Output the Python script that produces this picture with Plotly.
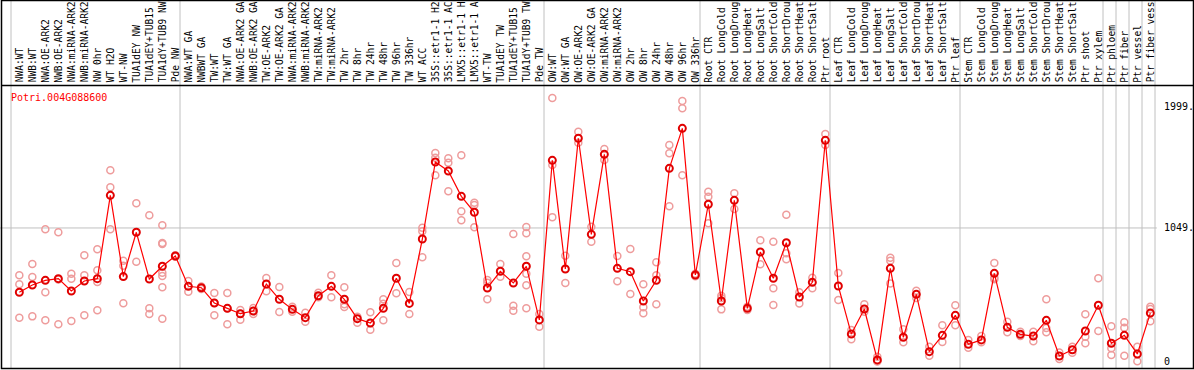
import plotly.graph_objects as go

labels = ["NWA:WT", "NWB:WT", "NWA:OE-ARK2", "NWB:OE-ARK2", "NWA:miRNA-ARK2", "NWB:miRNA-ARK2",
          "NW 0hr", "WT H2O", "WT-NW", "TUA1dEY NW", "TUA1dEY+TUB15", "TUA1dY+TUB9 NW", "Pde NW",
          "NWA:WT GA", "NWBWT GA", "TW:WT", "TW:WT GA", "NWA:OE-ARK2 GA", "NWB:OE-ARK2 GA",
          "TW:OE-ARK2", "TW:OE-ARK2 GA", "NWA:miRNA-ARK2", "NWB:miRNA-ARK2", "TW:miRNA-ARK2",
          "TW:miRNA-ARK2", "TW 2hr", "TW 8hr", "TW 24hr", "TW 48hr", "TW 96hr", "TW 336hr",
          "WT ACC", "35S::etr1-1 H2", "35S::etr1-1 AC", "LMX5::etr1-1 H", "LMX5::etr1-1 A",
          "WT-TW", "TUA1dEY TW", "TUA1dEY+TUB15", "TUA1dY+TUB9 TW", "Pde TW",
          "OW:WT", "OW:WT GA", "OW:OE-ARK2", "OW:OE-ARK2 GA", "OW:miRNA-ARK2", "OW:miRNA-ARK2",
          "OW 2hr", "OW 8hr", "OW 24hr", "OW 48hr", "OW 96hr", "OW 336hr",
          "Root CTR", "Root LongCold", "Root LongDroug", "Root LongHeat", "Root LongSalt",
          "Root ShortCold", "Root ShortDrou", "Root ShortHeat", "Root ShortSalt", "Ptr root",
          "Leaf CTR", "Leaf LongCold", "Leaf LongDroug", "Leaf LongHeat", "Leaf LongSalt",
          "Leaf ShortCold", "Leaf ShortDrou", "Leaf ShortHeat", "Leaf ShortSalt", "Ptr leaf",
          "Stem CTR", "Stem LongCold", "Stem LongDroug", "Stem LongHeat", "Stem LongSalt",
          "Stem ShortCold", "Stem ShortDrou", "Stem ShortHeat", "Stem ShortSalt",
          "Ptr shoot", "Ptr xylem", "Ptr phloem", "Ptr fiber", "Ptr vessel", "Ptr fiber vess"]

means = [544, 601, 638, 651, 554, 633, 651, 1305, 667, 1015, 648, 748, 829,
         591, 580, 460, 418, 376, 397, 609, 489, 410, 345, 517, 591, 489, 337, 303, 418, 654, 457,
         962, 1567, 1496, 1297, 1172, 578, 709, 617, 748, 327,
         1580, 727, 1753, 999, 1627, 732, 706, 476, 638, 1517, 1831, 680,
         1235, 476, 1266, 418, 860, 654, 933, 507, 622, 1737,
         593, 216, 413, 13, 732, 191, 528, 78, 206, 363,
         136, 170, 693, 269, 214, 201, 324, 44, 93, 240,
         442, 144, 206, 60, 381]

replicates = [
    [677, 607, 345], [766, 664, 355], [1038, 544, 324], [1015, 645, 293], [690, 651, 319],
    [834, 677, 363], [881, 717, 625, 403], [1502, 1368, 1038], [792, 753, 458], [1243, 784],
    [1148, 418, 374], [1070, 931, 923, 698, 672, 583, 337], [835, 823], [633, 549], [590, 570],
    [538, 460, 363], [538, 418, 293], [405, 376, 329], [420, 397, 374], [656, 552],
    [585, 389], [431, 392], [384, 313], [541, 505], [677, 505],
    [583, 450, 429], [352, 305], [387, 303, 250], [489, 454, 324], [774, 536],
    [546, 374], [1051, 1023, 819], [1637, 1600, 1462], [1596, 1561, 1337], [1619, 1180, 1109],
    [1247, 1229, 1054], [640, 619, 489], [766, 666], [1002, 439, 400], [1057, 1007, 827, 690, 599, 418],
    [374, 274], [2069, 1543, 1134], [831, 617], [1805, 1718], [1059, 941],
    [1669, 1582], [829, 630], [884, 531], [607, 426, 379], [779, 677, 450],
    [1700, 1635, 1219], [2045, 1988, 1462], [690, 670], [1334, 1294, 1086], [517, 500, 410],
    [1321, 1198], [430, 405], [952, 764], [941, 575, 444], [1153, 850, 803],
    [544, 457], [658, 575], [1786, 1700], [695, 483], [248, 175],
    [450, 392], [38, 5, 0], [816, 792, 614], [253, 151], [557, 500],
    [117, 46], [285, 154], [442, 285], [170, 109], [201, 151],
    [774, 659, 646], [313, 230], [235, 201], [235, 159], [489, 264, 230],
    [71, 20], [117, 70], [371, 196, 144], [654, 240], [277, 104, 52],
    [308, 266, 46], [117, 3], [431, 413, 316]]

group_ends = [-1, 12, 40, 52, 62, 72, 83, 84, 85, 86, 87]
tick_vals = [0, 1049, 1999]
tick_text = ["0", "1049.", "1999."]
title_text = "Potri.004G088600"

W, H = 1194, 370
STEP = 13.0          # px per sample
X0PX = 19.33         # px of first sample
Y0PX = 361.6         # px of value 0
PXV = 0.1274         # px per unit

xr = [-X0PX / STEP, (W - X0PX) / STEP]
yr = [(Y0PX - H) / PXV, Y0PX / PXV]

def px_x(p):
    return xr[0] + p / STEP

def pyp(p):
    return 1 - p / H

xs = list(range(len(labels)))
rx, ry = [], []
for i, reps in enumerate(replicates):
    for v in reps:
        rx.append(i)
        ry.append(v)

fig = go.Figure()
fig.add_trace(go.Scatter(x=rx, y=ry, mode="markers",
                         marker=dict(symbol="circle-open", size=7, color="#EE9C9C",
                                     line=dict(width=1.5, color="#EE9C9C")),
                         hoverinfo="skip", showlegend=False))
fig.add_trace(go.Scatter(x=xs, y=means, mode="lines+markers",
                         line=dict(color="#FF0000", width=1.2),
                         marker=dict(symbol="circle-open", size=7, color="#E00000",
                                     line=dict(width=2, color="#E00000")),
                         showlegend=False))

shapes = []
top_py, bot_py, hdr_py = 0.5, 368.5, 85.5
for k in group_ends:
    shapes.append(dict(type="line", xref="x", yref="paper", x0=k + 0.36, x1=k + 0.36,
                       y0=pyp(bot_py), y1=pyp(top_py), line=dict(color="#C0C0C0", width=1), layer="below"))
shapes.append(dict(type="line", xref="x", yref="y", x0=xr[0], x1=len(labels) - 0.5,
                   y0=tick_vals[1], y1=tick_vals[1], line=dict(color="#C0C0C0", width=1), layer="below"))
shapes.append(dict(type="rect", xref="paper", yref="paper", x0=1.5 / W, x1=1193.5 / W,
                   y0=pyp(bot_py), y1=pyp(top_py), line=dict(color="black", width=1.5)))
shapes.append(dict(type="line", xref="paper", yref="paper", x0=1.5 / W, x1=1193.5 / W,
                   y0=pyp(hdr_py), y1=pyp(hdr_py), line=dict(color="black", width=1.5)))

annotations = []
for i, lab in enumerate(labels):
    annotations.append(dict(x=i, xref="x", y=pyp(83.5), yref="paper", text=lab, textangle=-90,
                            showarrow=False, xanchor="center", yanchor="bottom", borderpad=0,
                            font=dict(family="DejaVu Sans Mono", size=9.6, color="black")))
for v, t in zip(tick_vals, tick_text):
    annotations.append(dict(x=px_x(1162), xref="x", y=v, yref="y", text=t, showarrow=False,
                            xanchor="left", yanchor="middle",
                            font=dict(family="DejaVu Sans Mono", size=10, color="black")))
annotations.append(dict(x=px_x(9), xref="x", y=pyp(97), yref="paper", text=title_text,
                        showarrow=False, xanchor="left", yanchor="middle",
                        font=dict(family="DejaVu Sans Mono", size=10, color="#FF0000")))

fig.update_layout(width=W, height=H, autosize=False, margin=dict(l=0, r=0, t=0, b=0, pad=0),
                  paper_bgcolor="white", plot_bgcolor="white",
                  xaxis=dict(range=xr, visible=False, showgrid=False, zeroline=False, fixedrange=True),
                  yaxis=dict(range=yr, visible=False, showgrid=False, zeroline=False, fixedrange=True),
                  shapes=shapes, annotations=annotations)
fig.write_html("out.html", config={"displayModeBar": False})

with open("out.html", "r", encoding="utf-8") as f:
    html = f.read()
html = html.replace("<head>", "<head><style>html,body{margin:0;padding:0;overflow:hidden;}</style>", 1)
with open("out.html", "w", encoding="utf-8") as f:
    f.write(html)
